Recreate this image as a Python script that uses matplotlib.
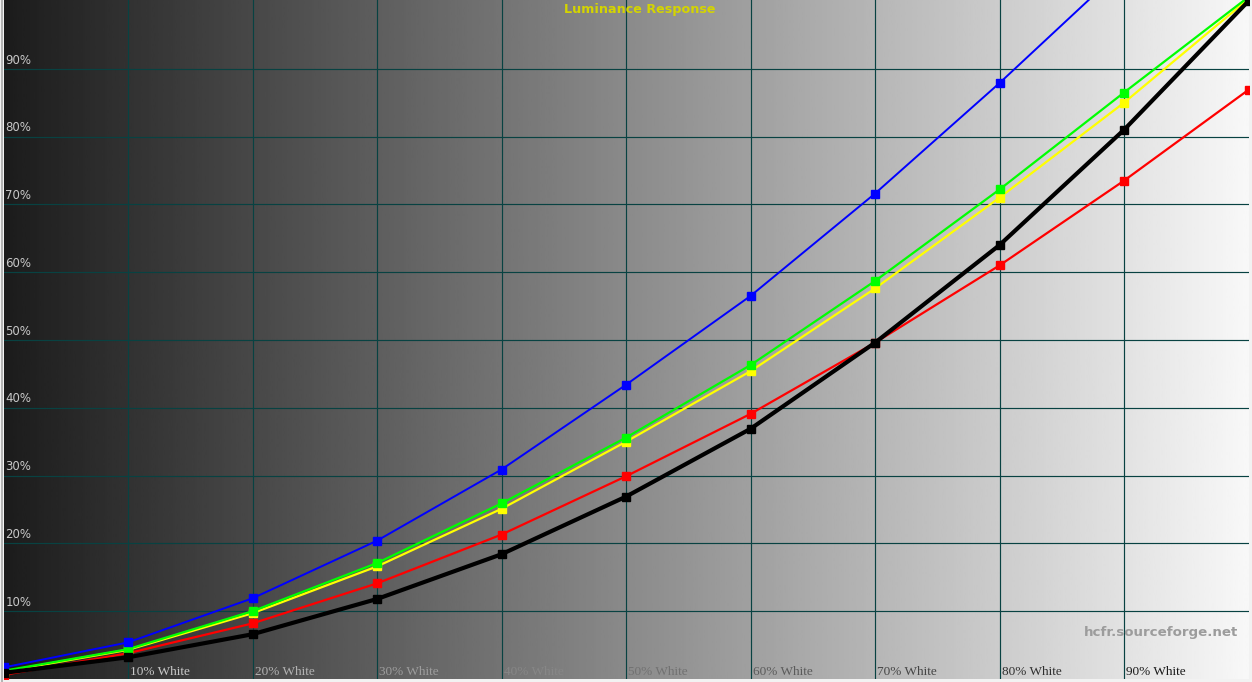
import numpy as np
import matplotlib.pyplot as plt

# luminance response (% of white)
levels = [0, 10, 20, 30, 40, 50, 60, 70, 80, 90, 100]
ref_black = [0.9, 3.2, 6.6, 11.8, 18.4, 26.9, 36.9, 49.6, 64.0, 81.0, 100.0]
red = [0.6, 3.8, 8.2, 14.1, 21.3, 29.9, 39.1, 49.6, 61.0, 73.5, 86.9]
green = [1.2, 4.4, 10.0, 17.1, 25.9, 35.6, 46.3, 58.7, 72.2, 86.5, 100.6]
yellow = [1.1, 4.3, 9.7, 16.6, 25.1, 35.0, 45.4, 57.6, 71.0, 85.0, 100.3]
blue = [1.7, 5.4, 11.9, 20.4, 30.9, 43.4, 56.5, 71.6, 87.9, 105.0, 122.0]

ytick_vals = [10, 20, 30, 40, 50, 60, 70, 80, 90]
ytick_labels = ['10%', '20%', '30%', '40%', '50%', '60%', '70%', '80%', '90%']
xtick_vals = [10, 20, 30, 40, 50, 60, 70, 80, 90]
xtick_labels = ['%d%% White' % v for v in xtick_vals]

fig = plt.figure(figsize=(12.52, 6.82), dpi=100, facecolor='#f2f2f2')
ax = fig.add_axes([3.5 / 1252, 3 / 682, 1245 / 1252, 679 / 682])
ax.set_xlim(0, 100)
ax.set_ylim(0, 100.15)
ax.axis('off')

# grey ramp background, dark to light
g0, g1 = 28 / 255, 248 / 255
ramp = np.linspace(g0, g1, 512).reshape(1, -1)
ax.imshow(ramp, cmap='gray', vmin=0, vmax=1, aspect='auto',
          extent=[0, 100, 0, 100.15], zorder=0)

grid_c = '#084242'
for v in xtick_vals:
    ax.axvline(v, color=grid_c, lw=0.85, zorder=1)
for v in ytick_vals:
    ax.axhline(v, color=grid_c, lw=0.85, zorder=1)

# y labels, top-left of each gridline
for v, s in zip(ytick_vals, ytick_labels):
    ax.text(0.15, v + 1.3, s, color='#c8c8c8', fontsize=8.5,
            family='DejaVu Sans', va='center', ha='left', zorder=2)

# x labels drawn in the inverse of the background tone
for v, s in zip(xtick_vals, xtick_labels):
    bg = g0 + (g1 - g0) * (v + 2) / 100
    inv = 1 - bg
    ax.text(v + 0.2, 1.1, s, color=(inv, inv, inv), fontsize=9.5,
            family='Liberation Serif', va='center', ha='left', zorder=2)

ax.plot(levels, red, color='#ff0000', lw=1.6, marker='s', ms=5.5, zorder=3)
ax.plot(levels, yellow, color='#ffff00', lw=1.6, marker='s', ms=5.5, zorder=4)
ax.plot(levels, green, color='#00ff00', lw=1.6, marker='s', ms=5.5, zorder=5)
ax.plot(levels, blue, color='#0000ff', lw=1.4, marker='s', ms=5.5, zorder=6)
ax.plot(levels, ref_black, color='#000000', lw=3.0, marker='s', ms=5.5, zorder=7)

ax.text(51.1, 98.8, 'Luminance Response', color='#d4d400', fontsize=9.2,
        fontweight='bold', family='DejaVu Sans', ha='center', va='center', zorder=8)
ax.text(99.2, 6.9, 'hcfr.sourceforge.net', color='#9c9c9c', fontsize=9.6,
        fontweight='bold', family='DejaVu Sans', ha='right', va='center', zorder=8)

# thin light frame line on the left edge
fig.add_artist(plt.Line2D([2 / 1252, 2 / 1252], [0, 1], color='#a8a8a8', lw=1.2))

fig.savefig('out.png', dpi=100, facecolor=fig.get_facecolor())
